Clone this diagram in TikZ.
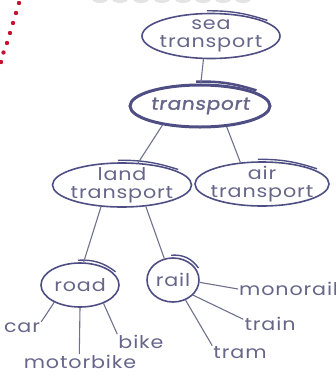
\documentclass[tikz,border=0pt]{standalone}
\usepackage{fontspec}
\setmainfont{Poppins}
\newfontfamily\hand[FakeStretch=1.18,LetterSpace=5]{Poppins}
\newfontfamily\handbold[FakeStretch=1.15,FakeSlant=0.15,FakeBold=1.5,LetterSpace=4]{Poppins}
\usetikzlibrary{shapes.geometric}
\definecolor{ink}{HTML}{4E4E84}
\definecolor{txt}{HTML}{66668A}
\definecolor{lnk}{HTML}{70708E}
\definecolor{reddot}{HTML}{C41230}
\definecolor{greyblob}{HTML}{E4E4E4}
\begin{document}
\begin{tikzpicture}[x=1pt,y=-1pt,
  ell/.style={ellipse, draw=ink, line width=1.6pt, inner xsep=-8pt, inner ysep=-8pt, text=txt,
    font=\hand\fontsize{17.5}{18}\selectfont, align=center},
  leaf/.style={inner sep=1pt, text=txt, font=\hand\fontsize{17.5}{18}\selectfont},
  link/.style={draw=lnk, line width=1.1pt},
  tailst/.style={draw=ink, line width=1.4pt}]
\useasboundingbox (0,0) rectangle (336,376);
% page decorations
\foreach \x/\y in {19/3,16/13,13/23,10/33,7/43,3.5/52.5,1/62}
  \fill[reddot] (\x,\y) circle[radius=2.2pt];
\foreach \x in {100,120,141,162,183,203,223,243}
  \fill[greyblob] (\x,-1) ellipse[x radius=8pt,y radius=4pt];
% concept nodes
\node[ell, minimum width=138pt, minimum height=45pt] (sea) at (211,36) {sea\\transport};
\node[ell, line width=3pt, minimum width=140pt, minimum height=42pt,
  font=\handbold\fontsize{17.5}{18}\selectfont] (trans) at (200,106) {transport};
\node[ell, minimum width=139pt, minimum height=44pt] (land) at (122,185) {land\\transport};
\node[ell, minimum width=134pt, minimum height=44pt] (air) at (262,184) {air\\transport};
\node[ell, minimum width=78pt, minimum height=44pt] (road) at (80,285) {road};
\node[ell, minimum width=52pt, minimum height=44pt] (rail) at (173,280) {rail};
% leaves
\node[leaf] (car) at (22,328) {car};
\node[leaf] (moto) at (80,362) {motorbike};
\node[leaf] (bike) at (141,342) {bike};
\node[leaf, anchor=west] (mono) at (238,289) {monorail};
\node[leaf] (train) at (270,324) {train};
\node[leaf] (tram) at (240,353) {tram};
% hand-drawn overshoot of the ellipses
\draw[tailst] ([yshift=2pt]sea.100) to[bend left=9] ([xshift=2pt,yshift=1pt]sea.15);
\draw[tailst, line width=2.5pt] ([yshift=2pt]trans.100) to[bend left=9] ([xshift=2pt,yshift=1pt]trans.15);
\draw[tailst] ([yshift=2pt]land.100) to[bend left=9] ([xshift=2pt,yshift=1pt]land.15);
\draw[tailst] ([yshift=2pt]air.100) to[bend left=9] ([xshift=2pt,yshift=1pt]air.15);
\draw[tailst] ([yshift=2pt]road.95) to[bend left=20] ([xshift=2pt,yshift=1pt]road.20);
\draw[tailst] ([yshift=2pt]rail.95) to[bend left=30] ([xshift=2pt,yshift=1pt]rail.25);
% connectors
\draw[link] (sea.252) -- (trans.88);
\draw[link] (trans.207) -- (land.54);
\draw[link] (trans.322) -- (air.135);
\draw[link] (land.226) -- (road.81);
\draw[link] (land.318) -- (rail.112);
\draw[link] (road.214) -- (car.north east);
\draw[link] (road.270) -- (moto.95);
\draw[link] (road.322) -- (bike.north west);
\draw[link] (rail.355) -- (mono.west);
\draw[link] (rail.323) -- (train.170);
\draw[link] (rail.302) -- (tram.north west);
\end{tikzpicture}
\end{document}
